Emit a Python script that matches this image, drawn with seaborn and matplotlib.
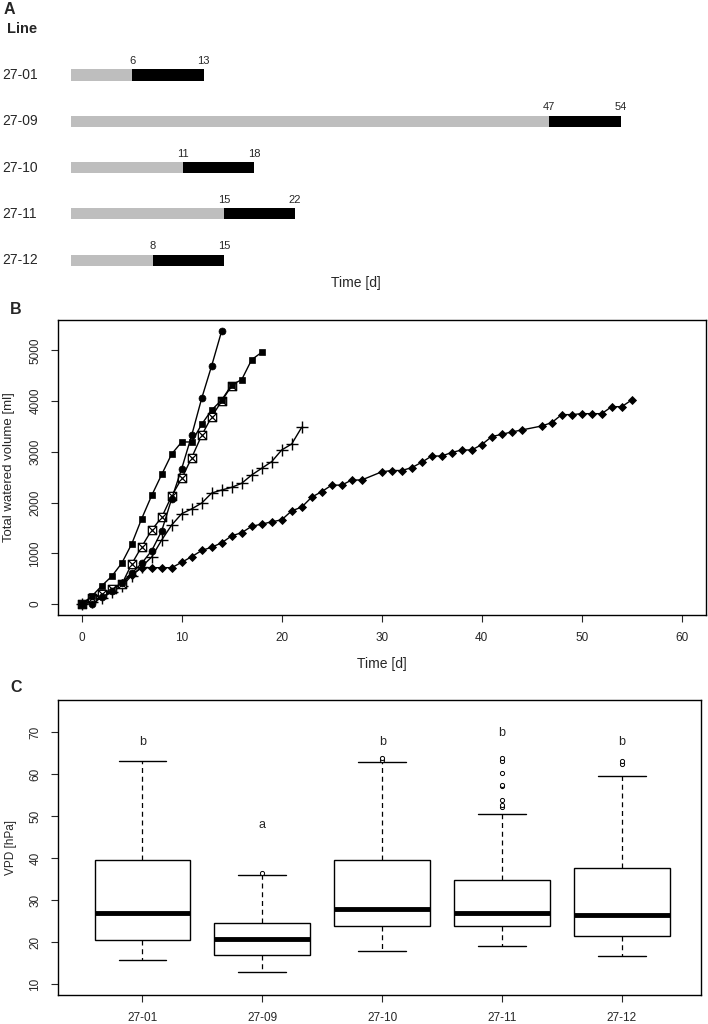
import numpy as np
import pandas as pd
import matplotlib
matplotlib.use("Agg")
import matplotlib.pyplot as plt
import seaborn as sns
from matplotlib.path import Path

# ---------------- data ----------------
lines = ["27-01", "27-09", "27-10", "27-11", "27-12"]
phase_start = [6, 47, 11, 15, 8]
phase_end = [13, 54, 18, 22, 15]

days_circle = list(range(0, 15))
vol_circle = [0, 0, 132, 256, 420, 605, 803, 1051, 1440, 2077, 2669, 3327, 4056, 4700, 5385]

days_square = list(range(0, 19))
vol_square = [0, 150, 358, 545, 803, 1183, 1683, 2140, 2554, 2958, 3195, 3195, 3544, 3826,
              4023, 4319, 4424, 4818, 4963]

days_boxed = list(range(0, 16))
vol_boxed = [0, 125, 195, 290, 385, 789, 1130, 1459, 1709, 2133, 2475, 2885, 3327, 3694,
             4003, 4305]

days_plus = list(range(0, 23))
vol_plus = [0, 45, 115, 240, 350, 560, 736, 927, 1262, 1558, 1780, 1875, 1990, 2188, 2248,
            2301, 2380, 2544, 2676, 2807, 3037, 3155, 3484]

days_diamond = list(range(0, 29)) + list(range(30, 45)) + list(range(46, 56))
vol_diamond = [0, 100, 190, 290, 420, 570, 716, 716, 716, 716, 822, 933, 1055, 1120, 1206,
               1344, 1406, 1532, 1575, 1620, 1660, 1837, 1910, 2107, 2215, 2344, 2344, 2445,
               2445,
               2606, 2632, 2632, 2688, 2794, 2918, 2918, 2987, 3037, 3037, 3142, 3300, 3346,
               3392, 3431,
               3510, 3576, 3734, 3734, 3753, 3753, 3753, 3891, 3891, 4023]

vpd_whisk_low = [15.7, 12.9, 18.0, 19.2, 16.7]
vpd_q1 = [20.6, 16.9, 23.8, 23.8, 21.5]
vpd_median = [27.05, 20.9, 27.85, 27.0, 26.5]
vpd_q3 = [39.5, 24.6, 39.5, 34.75, 37.7]
vpd_whisk_high = [63.2, 36.1, 63.0, 50.6, 59.7]
vpd_outliers = {
    "27-09": [36.4],
    "27-10": [63.4, 63.8],
    "27-11": [52.3, 52.7, 53.9, 57.2, 57.5, 60.4, 63.2, 63.9],
    "27-12": [62.4, 63.2],
}
sig_letters = ["b", "a", "b", "b", "b"]
sig_letter_y = [67.8, 47.9, 67.8, 69.8, 67.8]

# ---------------- style ----------------
sns.set_style("ticks")
plt.rcParams["font.family"] = ["Liberation Sans", "DejaVu Sans"]
plt.rcParams["axes.linewidth"] = 1.0

W, H = 708, 1024
fig = plt.figure(figsize=(W / 100, H / 100), dpi=100)


def px_axes(x0, y0, x1, y1):
    return fig.add_axes([x0 / W, 1 - y1 / H, (x1 - x0) / W, (y1 - y0) / H])


def ftext(x, y, s, **kw):
    fig.text(x / W, 1 - y / H, s, **kw)


# ---------------- panel A ----------------
axA = px_axes(0, 40, 708, 290)
dfA = pd.DataFrame({"line": lines, "start": phase_start, "end": phase_end})
sns.barplot(data=dfA, x="end", y="line", orient="h", color="black", saturation=1,
            width=0.24, errorbar=None, linewidth=0, ax=axA)
sns.barplot(data=dfA, x="start", y="line", orient="h", color="#bebebe", saturation=1,
            width=0.24, errorbar=None, linewidth=0, ax=axA)
axA.set_xlim(-7.02, 62.6)
axA.set_ylim(4.644, -0.756)
axA.axis("off")
for i, (ln, s, e) in enumerate(zip(lines, phase_start, phase_end)):
    axA.text(-6.82, i, ln, ha="left", va="center", fontsize=10)
    axA.text(s, i - 0.3, str(s), ha="center", va="center", fontsize=8)
    axA.text(e, i - 0.3, str(e), ha="center", va="center", fontsize=8)

ftext(4, 10, "A", fontsize=11.5, fontweight="bold", ha="left", va="center")
ftext(7, 29, "Line", fontsize=10.5, fontweight="bold", ha="left", va="center")
ftext(356, 283, "Time [d]", fontsize=10, ha="center", va="center")

# ---------------- panel B ----------------
axB = px_axes(58, 320, 706, 615)
boxed_x = Path(
    [(-1, -1), (1, -1), (1, 1), (-1, 1), (-1, -1), (-1, -1), (1, 1), (-1, 1), (1, -1)],
    [Path.MOVETO, Path.LINETO, Path.LINETO, Path.LINETO, Path.CLOSEPOLY,
     Path.MOVETO, Path.LINETO, Path.MOVETO, Path.LINETO],
)
series = [
    (days_diamond, vol_diamond, "D", 4.0, "black", 0.6),
    (days_plus, vol_plus, "+", 8.0, "black", 1.0),
    (days_boxed, vol_boxed, boxed_x, 6.0, "white", 0.9),
    (days_square, vol_square, "s", 4.3, "black", 0.5),
    (days_circle, vol_circle, "o", 5.0, "black", 0.5),
]
for d, v, m, ms, mfc, mew in series:
    sns.lineplot(x=d, y=v, ax=axB, color="black", linewidth=1.0, estimator=None,
                 marker=m, markersize=ms, markerfacecolor=mfc, markeredgecolor="black",
                 markeredgewidth=mew)
axB.set_xlim(-2.37, 62.43)
axB.set_ylim(-217, 5600)
axB.set_xticks(range(0, 61, 10))
axB.set_yticks(range(0, 5001, 1000))
axB.tick_params(direction="out", length=5, width=0.8, labelsize=8.5, pad=7)
for lab in axB.get_yticklabels():
    lab.set_rotation(90)
    lab.set_va("center")
for sp in axB.spines.values():
    sp.set_visible(True)
    sp.set_color("black")
axB.set_xlabel("Time [d]", fontsize=10)
axB.set_ylabel("Total watered volume [ml]", fontsize=9.5)
axB.xaxis.set_label_coords(0.5, -0.142)
axB.yaxis.set_label_coords(-0.066, 0.5)
ftext(10, 310, "B", fontsize=11.5, fontweight="bold", ha="left", va="center")

# ---------------- panel C ----------------
axC = px_axes(58, 700, 701, 995)
rows = []
for ln, a, b, c, d, e in zip(lines, vpd_whisk_low, vpd_q1, vpd_median, vpd_q3, vpd_whisk_high):
    for val in (a, b, c, d, e):
        rows.append({"line": ln, "vpd": val})
dfC = pd.DataFrame(rows)
sns.boxplot(data=dfC, x="line", y="vpd", order=lines, whis=(0, 100), color="white",
            saturation=1, linecolor="black", linewidth=1.0, width=0.8, showfliers=False,
            medianprops={"linewidth": 3.5, "color": "black"},
            whiskerprops={"linestyle": (0, (4, 3)), "linewidth": 0.9},
            capprops={"linewidth": 1.0}, ax=axC)
ox, oy = [], []
for ln, vals in vpd_outliers.items():
    for v in vals:
        ox.append(lines.index(ln))
        oy.append(v)
sns.scatterplot(x=ox, y=oy, ax=axC, marker="o", color="white", edgecolor="black",
                linewidth=0.7, s=9, zorder=5)
for i, (t, y) in enumerate(zip(sig_letters, sig_letter_y)):
    axC.text(i, y, t, ha="center", va="center", fontsize=9)
axC.set_xlim(-0.705, 4.66)
axC.set_ylim(7.45, 77.7)
axC.set_yticks(range(10, 71, 10))
axC.tick_params(direction="out", length=5, width=0.8, labelsize=8.5, pad=7)
for lab in axC.get_yticklabels():
    lab.set_rotation(90)
    lab.set_va("center")
for sp in axC.spines.values():
    sp.set_visible(True)
    sp.set_color("black")
axC.set_xlabel("")
axC.set_ylabel("VPD [hPa]", fontsize=8.5)
axC.yaxis.set_label_coords(-0.063, 0.5)
ftext(10, 688, "C", fontsize=11.5, fontweight="bold", ha="left", va="center")

fig.savefig("out.png", dpi=100)
